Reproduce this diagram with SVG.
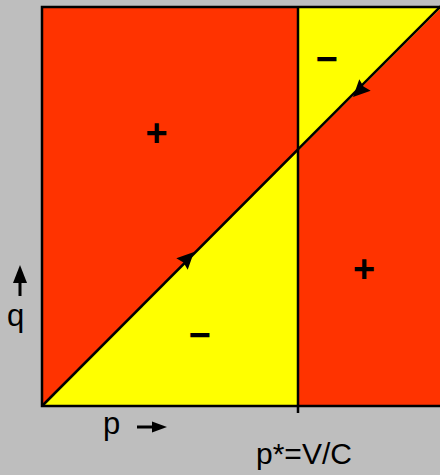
<svg xmlns="http://www.w3.org/2000/svg" width="440" height="475" viewBox="0 0 440 475">
<style>
.ln{stroke:#000;stroke-width:2.5;fill:none}
.sign{font-family:"Liberation Sans",Arial,sans-serif;font-weight:bold;font-size:38px;text-anchor:middle;fill:#000}
.lbl{font-family:"Liberation Sans",Arial,sans-serif;font-size:31px;fill:#000}
.ah{fill:#000}
</style>
<rect x="0" y="0" width="440" height="475" fill="#bebebe"/>
<g id="regions">
<rect id="red" x="42" y="7" width="400" height="399" fill="#ff3300"/>
<polygon id="yellow-low" points="42,406 298,406 298,151" fill="#ffff00"/>
<polygon id="yellow-high" points="298,7 298,151 442,7" fill="#ffff00"/>
</g>
<g id="connectors">
<rect class="ln" x="42" y="7" width="400" height="399"/>
<line class="ln" x1="298" y1="7" x2="298" y2="413"/>
<line class="ln" x1="42" y1="406" x2="441" y2="6"/>
<polygon class="ah" points="194,252 187.7,269.7 183.5,262.5 176.3,258.3"/>
<polygon class="ah" points="353,97 359.3,79.3 363.5,86.5 370.7,90.7"/>
<line x1="20" y1="296" x2="20" y2="278" stroke="#000" stroke-width="3"/>
<polygon class="ah" points="20,265 27,283 13,283"/>
<line x1="137" y1="427" x2="154" y2="427" stroke="#000" stroke-width="3"/>
<polygon class="ah" points="167,427 152,421.5 152,432.5"/>
</g>
<g id="sign-tl"><text class="sign" x="156.5" y="146">+</text></g>
<g id="sign-tr"><text class="sign" x="326.5" y="72">−</text></g>
<g id="sign-br"><text class="sign" x="364" y="282">+</text></g>
<g id="sign-bl"><text class="sign" x="199.5" y="348">−</text></g>
<g id="label-q"><text class="lbl" x="7" y="326">q</text></g>
<g id="label-p"><text class="lbl" x="103" y="434">p</text></g>
<g id="label-pstar"><text class="lbl" x="256" y="464" style="font-size:30px">p*=V/C</text></g>
</svg>
